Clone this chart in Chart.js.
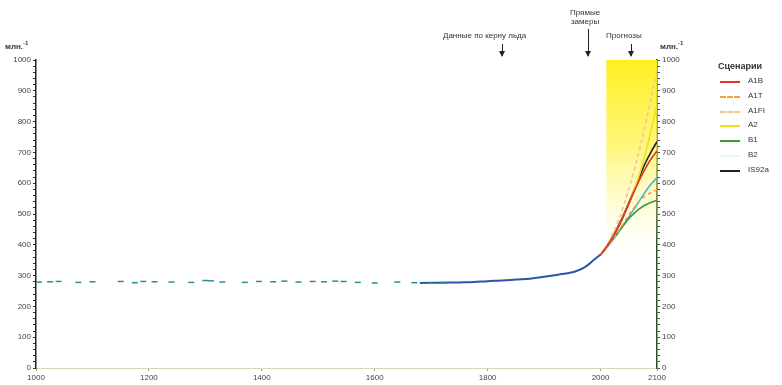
<!DOCTYPE html>
<html>
<head>
<meta charset="utf-8">
<script src="https://cdn.jsdelivr.net/npm/chart.js@4.4.1/dist/chart.umd.min.js"></script>
<style>
  body { margin: 0; background: #fff; }
  #wrap { position: relative; width: 782px; height: 385px; font-family: "Liberation Sans", Arial, sans-serif; color: #333; }
  .lbl { position: absolute; font-size: 8px; font-weight: bold; white-space: nowrap; }
  .lbl sup { font-size: 6px; }
  .arrow { position: absolute; width: 1px; background: #222; }
  .arrow:after { content: ""; position: absolute; left: -3px; bottom: -1px; border-left: 3.5px solid transparent; border-right: 3.5px solid transparent; border-top: 6px solid #222; }
  .leg { position: absolute; left: 720px; font-size: 8px; }
  .leg span.s { position: absolute; left: 0; top: 5px; width: 20px; border-top: 2px solid; }
  .leg span.t { position: absolute; left: 28px; top: 0; }
</style>
</head>
<body>
<div id="wrap">
  <canvas id="co2Chart" width="782" height="385"></canvas>
  <div class="lbl" style="left:5px;top:40px;">млн.<sup>-1</sup></div>
  <div class="lbl" style="left:660px;top:40px;">млн.<sup>-1</sup></div>
  <div class="lbl" style="left:443px;top:31px;font-weight:normal;">Данные по керну льда</div>
  <div class="arrow" style="left:502px;top:44px;height:12px;"></div>
  <div class="lbl" style="left:570px;top:8px;font-weight:normal;text-align:center;line-height:9px;">Прямые<br>замеры</div>
  <div class="arrow" style="left:588px;top:29px;height:27px;"></div>
  <div class="lbl" style="left:606px;top:31px;font-weight:normal;">Прогнозы</div>
  <div class="arrow" style="left:631px;top:44px;height:12px;"></div>
  <div class="lbl" style="left:718px;top:61px;font-size:9px;">Сценарии</div>
  <div id="legend"></div>
</div>
<script>
// ice core data (scattered)
const iceYears = [1005, 1025, 1040, 1075, 1100, 1150, 1175, 1190, 1210, 1240, 1275, 1300, 1310, 1330, 1370, 1395, 1420, 1440, 1465, 1490, 1510, 1530, 1545, 1570, 1600, 1640, 1670, 1700, 1720];
const iceCO2 = [279, 280, 281, 278, 280, 281, 277, 281, 280, 279, 278, 284, 283, 279, 278, 281, 280, 282, 279, 281, 280, 282, 281, 278, 276, 279, 277, 276, 278];

// direct measurements / combined record
const histYears = [1680, 1720, 1750, 1775, 1800, 1825, 1850, 1875, 1900, 1925, 1950, 1960, 1970, 1980, 1990, 2000];
const histCO2 = [276, 277, 278, 279, 282, 284, 287, 290, 296, 303, 311, 317, 325, 338, 354, 368];

// projections
const projYears = [2000, 2010, 2020, 2030, 2040, 2050, 2060, 2070, 2080, 2090, 2100];
const A1B = [368, 392, 420, 452, 490, 532, 575, 615, 650, 680, 705];
const A1T = [368, 390, 414, 440, 468, 497, 522, 544, 560, 570, 578];
const A1FI = [368, 395, 430, 472, 522, 580, 645, 715, 795, 880, 965];
const A2 = [368, 392, 420, 452, 490, 532, 580, 635, 700, 775, 855];
const B1 = [368, 390, 414, 438, 462, 485, 503, 518, 530, 538, 545];
const B2 = [368, 389, 412, 436, 462, 490, 518, 546, 574, 598, 618];
const IS92a = [368, 392, 422, 456, 494, 536, 580, 625, 668, 703, 735];
const rangeYears = [2010, 2100];
const rangeTop = [1000, 1000];

const scenarios = [
  { label: 'A1B', data: A1B, color: '#e8302a', dash: [] },
  { label: 'A1T', data: A1T, color: '#f0a040', dash: [4, 3] },
  { label: 'A1FI', data: A1FI, color: '#f5c39a', dash: [4, 3] },
  { label: 'A2', data: A2, color: '#ece21c', dash: [] },
  { label: 'B1', data: B1, color: '#3a9a34', dash: [] },
  { label: 'B2', data: B2, color: '#40b8d8', dash: [] },
  { label: 'IS92a', data: IS92a, color: '#222222', dash: [] }
];

const legendColors = { B2: '#e4f6fa' };
const legend = document.getElementById('legend');
scenarios.forEach((s, i) => {
  const d = document.createElement('div');
  d.className = 'leg';
  d.style.top = (76 + i * 14.8) + 'px';
  const c = legendColors[s.label] || s.color;
  d.innerHTML = '<span class="s" style="border-top-color:' + c + ';border-top-style:' + (s.dash.length ? 'dashed' : 'solid') + '"></span><span class="t">' + s.label + '</span>';
  legend.appendChild(d);
});

const pts = (xs, ys) => xs.map((x, i) => ({ x: x, y: ys[i] }));

const datasets = [
  {
    data: pts(rangeYears, rangeTop),
    order: 10,
    borderWidth: 0,
    pointRadius: 0,
    fill: 'origin',
    backgroundColor: (ctx) => {
      const chart = ctx.chart;
      if (!chart.chartArea) return 'rgba(255,240,0,0.5)';
      const y = chart.scales.y;
      const g = chart.ctx.createLinearGradient(0, y.getPixelForValue(1000), 0, y.getPixelForValue(380));
      g.addColorStop(0, 'rgba(255,238,20,0.95)');
      g.addColorStop(0.45, 'rgba(255,244,90,0.8)');
      g.addColorStop(1, 'rgba(255,250,180,0)');
      return g;
    }
  },
  {
    type: 'scatter',
    data: pts(iceYears, iceCO2),
    order: 1,
    pointStyle: 'line',
    pointRadius: 3,
    borderWidth: 1.5,
    borderColor: '#2a8c9c',
    showLine: false
  },
  {
    data: pts(histYears, histCO2),
    order: 1,
    borderColor: '#2a55a8',
    borderWidth: 2,
    pointRadius: 0,
    tension: 0.4
  }
];
scenarios.forEach(s => {
  datasets.push({
    data: pts(projYears, s.data),
    order: 0,
    borderColor: s.color,
    borderDash: s.dash,
    borderWidth: 1.6,
    pointRadius: 0,
    tension: 0.4
  });
});

const tickFont = { family: '"Liberation Sans", Arial, sans-serif', size: 8 };
const yTicks = {
  stepSize: 20,
  autoSkip: false,
  color: '#444',
  font: tickFont,
  padding: 2,
  callback: v => (v % 100 === 0 ? String(v) : '')
};

new Chart(document.getElementById('co2Chart'), {
  type: 'line',
  data: { datasets: datasets },
  options: {
    responsive: false,
    animation: false,
    layout: { padding: { top: 60 } },
    plugins: { legend: { display: false }, tooltip: { enabled: false } },
    scales: {
      x: {
        type: 'linear',
        min: 1000,
        max: 2100,
        afterBuildTicks: s => { s.ticks = [1000, 1200, 1400, 1600, 1800, 2000, 2100].map(v => ({ value: v })); },
        afterFit: s => { s.height = 17; },
        ticks: { color: '#444', font: tickFont, padding: 2, maxRotation: 0, callback: v => String(v) },
        grid: { drawOnChartArea: false, tickLength: 3, color: '#999' },
        border: { color: '#ddd6b0' }
      },
      y: {
        min: 0,
        max: 1000,
        afterFit: s => { s.width = 36; },
        ticks: yTicks,
        grid: { drawOnChartArea: false, tickLength: 3, color: '#333' },
        border: { color: '#222', width: 1.5 }
      },
      y2: {
        position: 'right',
        min: 0,
        max: 1000,
        afterFit: s => { s.width = 125; },
        ticks: yTicks,
        grid: { drawOnChartArea: false, tickLength: 3, color: '#335533' },
        border: { color: '#2e4a2a', width: 1.5 }
      }
    }
  }
});
</script>
</body>
</html>
